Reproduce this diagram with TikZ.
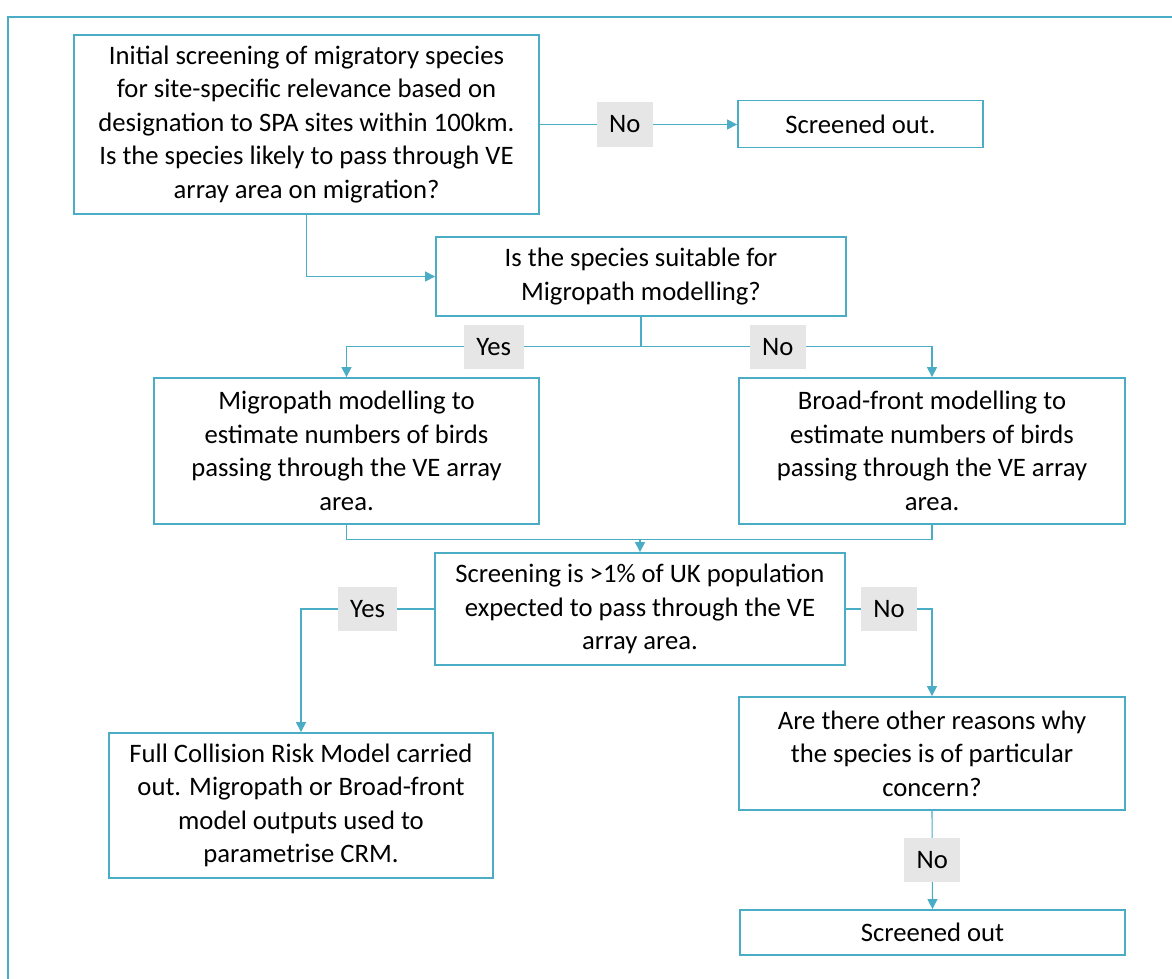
\documentclass[tikz,border=0pt]{standalone}
\usepackage{fontspec}
\setmainfont{Carlito}
\usetikzlibrary{arrows.meta}

\definecolor{teal1}{RGB}{75,172,198}
\definecolor{gris1}{RGB}{231,230,230}

\begin{document}
\begin{tikzpicture}[x=1pt, y=-1pt,
  flowbox/.style={draw=teal1, line width=1.8pt, align=center, inner sep=0pt,
    font=\fontsize{26.67}{33.5}\selectfont},
  answer/.style={fill=gris1, inner xsep=12.5pt, inner ysep=0pt, minimum height=44pt,
    font=\fontsize{26.67}{33.5}\selectfont},
  link/.style={draw=teal1, line width=1.1pt, ->, >={Triangle[length=10pt, width=10pt]}}]

  \useasboundingbox (0,0) rectangle (1172,979);

  % Cadre
  \draw[teal1, line width=2pt] (8,979) -- (8,17) -- (1172,17);

  % Boites
  \node[flowbox, minimum width=465pt, minimum height=179pt] (b1) at (306.5,124.5)
    {Initial screening of migratory species\\ for site-specific relevance based on\\
     designation to SPA sites within 100km.\\ Is the species likely to pass through VE\\
     array area on migration?};
  \node[flowbox, minimum width=245pt, minimum height=47pt] (so1) at (860.5,124) {Screened out.};
  \node[flowbox, minimum width=410pt, minimum height=79pt] (b2) at (641,276.5)
    {Is the species suitable for\\ Migropath modelling?};
  \node[flowbox, minimum width=385pt, minimum height=146pt] (b3) at (346.5,451)
    {Migropath modelling to\\ estimate numbers of birds\\ passing through the VE array\\ area.};
  \node[flowbox, minimum width=386pt, minimum height=146pt] (b4) at (932,451)
    {Broad-front modelling to\\ estimate numbers of birds\\ passing through the VE array\\ area.};
  \node[flowbox, minimum width=410pt, minimum height=112pt] (b5) at (640,609)
    {Screening is >1\% of UK population\\ expected to pass through the VE\\ array area.};
  \node[flowbox, minimum width=384pt, minimum height=145pt] (b6) at (301,805.5)
    {Full Collision Risk Model carried\\ out. Migropath or Broad-front\\ model outputs used to\\ parametrise CRM.};
  \node[flowbox, minimum width=386pt, minimum height=113pt] (b7) at (932,753.5)
    {Are there other reasons why\\ the species is of particular\\ concern?};
  \node[flowbox, minimum width=385pt, minimum height=45pt] (so2) at (932.5,932.5) {Screened out};

  % Liaisons
  \coordinate (fork) at ([yshift=-30pt]b2.south);
  \coordinate (merge) at ([yshift=13pt]b5.north);

  \draw[link] (b1.east) -- node[answer, pos=0.43] (no1) {No} (b1.east -| so1.west);
  \draw[link] (b1.south) |- (b2.west);
  \draw[draw=teal1, line width=1.1pt] (b2.south) -- (fork);
  \draw[link] (fork) -| node[answer, pos=0.25] (yes1) {Yes} (b3.north);
  \draw[link] (fork) -| node[answer, pos=0.235] (no2) {No} (b4.north);
  \draw[draw=teal1, line width=1.1pt] (b3.south) |- (merge) -| (b4.south);
  \draw[link] (merge) -- (b5.north);
  \draw[link] (b5.west) -| node[answer, pos=0.25] (yes2) {Yes} (b6.north);
  \draw[link] (b5.east) -| node[answer, pos=0.25] (no3) {No} (b7.north);
  \draw[link] (b7.south) -- node[answer] (no4) {No} (so2.north);

\end{tikzpicture}
\end{document}
